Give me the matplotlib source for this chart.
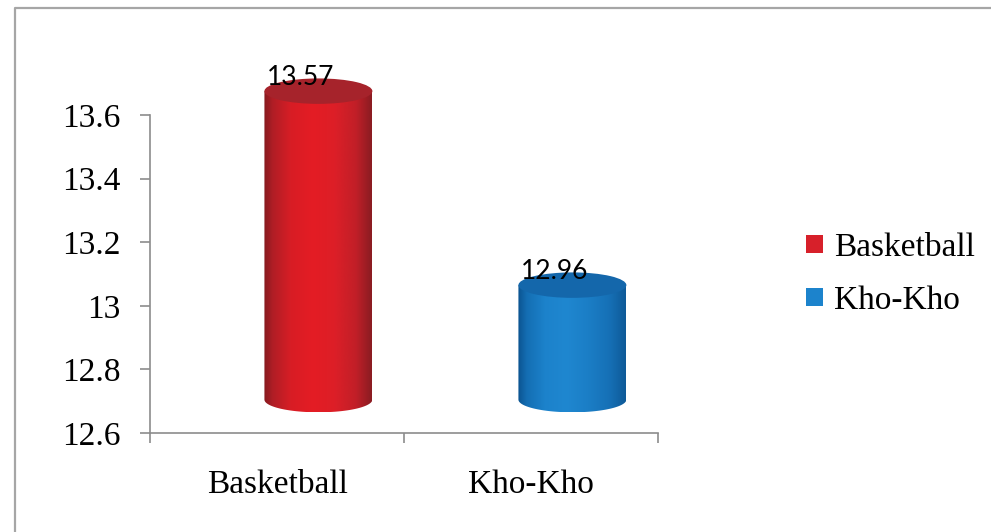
"""
Cylinder bar chart: Basketball vs Kho-Kho mean scores.

Draws two shaded 3D-style cylinders on a 12.6 - 13.6 axis, in the look of
an Excel chart, and saves the figure as out.png.
"""

import matplotlib.pyplot as plt
import numpy as np
from matplotlib.colors import LinearSegmentedColormap
from matplotlib.patches import Ellipse, PathPatch, Rectangle
from matplotlib.path import Path
from matplotlib.lines import Line2D

categories = ["Basketball", "Kho-Kho"]
scores = [13.57, 12.96]
y_ticks = [12.6, 12.8, 13.0, 13.2, 13.4, 13.6]

# look of the 3D cylinders (data units)
BAR_WIDTH = 0.425
DEPTH_X = 0.163
DEPTH_Y = 0.105
CAP_H = 0.08

BODY_COLORS = [
    ["#861a1f", "#b01e26", "#d81d25", "#e41c24", "#dd1f27", "#c21f28", "#8a1c22"],
    ["#0b5390", "#146eb3", "#1c82cb", "#1f87d0", "#1b7ec6", "#1670b6", "#0e5a98"],
]
BODY_STOPS = [0, 0.08, 0.25, 0.45, 0.65, 0.85, 1]
CAP_COLORS = ["#a6232b", "#1467ab"]
LEGEND_COLORS = ["#d7202a", "#1c83cc"]
AXIS_GREY = "#8c8c8c"
SERIF = ["Liberation Serif", "DejaVu Serif"]


def draw_cylinder(fig, ax, xc, base, top, colors, cap_color):
    """Shaded body clipped to the cylinder outline, plus an elliptical cap."""
    x0, x1 = xc - BAR_WIDTH / 2, xc + BAR_WIDTH / 2
    yb, yt = base + DEPTH_Y, top + DEPTH_Y

    t = np.linspace(np.pi, 2 * np.pi, 80)
    arc = list(zip(xc + BAR_WIDTH / 2 * np.cos(t), yb + CAP_H / 2 * np.sin(t)))
    outline = Path([(x0, yt)] + arc + [(x1, yt), (x0, yt)], closed=True)
    clip = PathPatch(outline, transform=ax.transData)

    cmap = LinearSegmentedColormap.from_list("body", list(zip(BODY_STOPS, colors)))
    grad = np.linspace(0, 1, 256).reshape(1, -1)
    im = ax.imshow(grad, cmap=cmap, extent=(x0, x1, yb - CAP_H / 2, yt),
                   aspect="auto", origin="lower", interpolation="bicubic",
                   zorder=2)
    im.set_clip_path(clip)
    im.set_clip_box(fig.bbox)

    ax.add_patch(Ellipse((xc, yt), BAR_WIDTH, CAP_H, facecolor=cap_color,
                         edgecolor="none", zorder=3, clip_on=False))


def generate_chart():
    fig = plt.figure(figsize=(9.91, 5.32), dpi=100)
    ax = fig.add_axes([150 / 991, 1 - 433 / 532, 508 / 991, 318 / 532])

    x = np.arange(len(categories))
    for i, (xc, val) in enumerate(zip(x, scores)):
        draw_cylinder(fig, ax, xc + DEPTH_X, y_ticks[0], val,
                      BODY_COLORS[i], CAP_COLORS[i])
        ax.text(xc + DEPTH_X - 0.07, val + DEPTH_Y + 0.02, f"{val:.2f}",
                ha="center", va="baseline", fontsize=19, family="Lato",
                color="black", zorder=4, clip_on=False)

    ax.set_xlim(-0.5, len(categories) - 0.5)
    ax.set_ylim(y_ticks[0], y_ticks[-1])

    ax.set_yticks(y_ticks)
    ax.set_yticklabels([f"{v:g}" for v in y_ticks], family=SERIF, fontsize=24)
    ax.set_xticks(x)
    ax.set_xticklabels(categories, family=SERIF, fontsize=24)
    ax.set_xticks(np.arange(-0.5, len(categories)), minor=True)
    ax.tick_params(axis="x", which="major", length=0, pad=26)
    ax.tick_params(axis="x", which="minor", length=7, width=1.2,
                   color=AXIS_GREY, direction="out")
    ax.tick_params(axis="y", length=7, width=1.2, color=AXIS_GREY, pad=14)

    for side in ("top", "right"):
        ax.spines[side].set_visible(False)
    for side in ("left", "bottom"):
        ax.spines[side].set_color(AXIS_GREY)
        ax.spines[side].set_linewidth(1.2)

    handles = [Rectangle((0, 0), 1, 1, facecolor=c, edgecolor="none")
               for c in LEGEND_COLORS]
    fig.legend(handles, categories, loc="center left",
               bbox_to_anchor=(806 / 991, 1 - 274 / 532), frameon=False,
               prop={"family": SERIF, "size": 24}, handlelength=0.5,
               handleheight=0.45, handletextpad=0.33, labelspacing=0.68,
               borderpad=0, borderaxespad=0)

    # chart area border (only top and left edges show in the crop)
    fx, fy = 15 / 991, 1 - 8 / 532
    fig.add_artist(Line2D([fx, fx, 1], [0, fy, fy], color="#a6a6a6", lw=1.6))

    fig.savefig("out.png", dpi=100)


if __name__ == "__main__":
    generate_chart()
